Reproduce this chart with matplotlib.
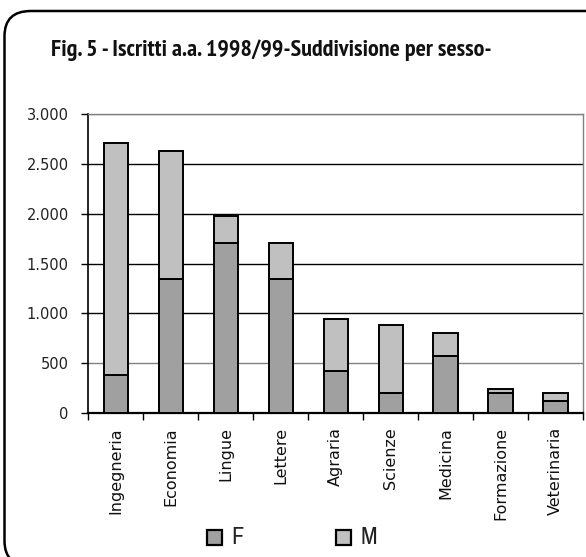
import os
import matplotlib
matplotlib.use("Agg")
import matplotlib.pyplot as plt
from matplotlib import font_manager, patheffects
from matplotlib.font_manager import FontProperties
from matplotlib.patches import FancyBboxPatch, Rectangle
from matplotlib.ticker import FuncFormatter, FixedLocator
import numpy as np

categories = ["Ingegneria", "Economia", "Lingue", "Lettere", "Agraria",
              "Scienze", "Medicina", "Formazione", "Veterinaria"]
femmine = [385, 1350, 1710, 1350, 425, 205, 570, 205, 125]
maschi = [2330, 1285, 265, 360, 520, 680, 235, 40, 80]
y_ticks = [0, 500, 1000, 1500, 2000, 2500, 3000]
title = "Fig. 5 - Iscritti a.a. 1998/99-Suddivisione per sesso-"
series_labels = ["F", "M"]


def weight_num(entry):
    w = entry.weight
    if isinstance(w, str):
        return {"bold": 700, "semibold": 600, "demibold": 600, "heavy": 800,
                "black": 900, "light": 300, "normal": 400, "regular": 400,
                "medium": 500, "book": 400}.get(w, 400)
    return int(w)


def width_tier(entry):
    tag = (entry.name + " " + os.path.basename(entry.fname)).lower().replace(" ", "")
    if "narrow" in tag:
        return 0
    if "extracondensed" in tag or "ultracondensed" in tag:
        return 3
    if "semicondensed" in tag:
        return 2
    if "condensed" in tag:
        return 1
    return None


def upright(entry):
    base = os.path.basename(entry.fname).lower()
    stem = os.path.splitext(base)[0]
    return (str(entry.style) == "normal" and "ital" not in base
            and "oblique" not in base and not stem.endswith("it"))


narrow_fonts = [e for e in font_manager.fontManager.ttflist
                if width_tier(e) is not None and upright(e)]


def pick(target_weight):
    if not narrow_fonts:
        return None
    return min(narrow_fonts,
               key=lambda e: (abs(weight_num(e) - target_weight) > 150,
                              width_tier(e),
                              abs(weight_num(e) - target_weight)))


heavy = pick(700)
regular = pick(400)
if heavy is not None:
    title_font = FontProperties(fname=heavy.fname, size=17.4)
    legend_font = FontProperties(fname=regular.fname, size=17.5)
    title_is_bold = weight_num(heavy) >= 600
else:
    title_font = FontProperties(family="DejaVu Sans", weight="bold", size=12)
    legend_font = FontProperties(family="DejaVu Sans", size=13)
    title_is_bold = True

W, H = 586, 557
fig = plt.figure(figsize=(W / 100, H / 100), dpi=100)


def fx(px):
    return px / W


def fy(py):
    return 1 - py / H


# rounded frame around the whole chart
frame = FancyBboxPatch((fx(4.5), fy(566)), fx(620) - fx(4.5), fy(11) - fy(566),
                       boxstyle="round,pad=0,rounding_size=0.045",
                       transform=fig.transFigure, facecolor="none",
                       edgecolor="black", linewidth=1.8, zorder=-1)
fig.patches.append(frame)

title_txt = fig.text(fx(271), fy(50), title, ha="center", va="center",
                     fontproperties=title_font, color="#111111")
if not title_is_bold:
    # thicken the strokes of a light condensed face
    title_txt.set_path_effects([patheffects.withStroke(linewidth=1.1,
                                                       foreground="#111111")])

ax = fig.add_axes([fx(88.3), fy(413), fx(583) - fx(88.3), fy(114.3) - fy(413)])
ax.set_facecolor("white")
ax.set_zorder(2)

x = np.arange(len(categories))
f_col = "#a0a0a0"
m_col = "#c0c0c0"
ax.bar(x, femmine, width=0.44, color=f_col, edgecolor="black", linewidth=1.4, zorder=3)
ax.bar(x, maschi, width=0.44, bottom=femmine, color=m_col, edgecolor="black",
       linewidth=1.4, zorder=3)

ax.set_xlim(-0.5, len(categories) - 0.5)
ax.set_ylim(0, 3000)

# horizontal gridlines
for v in y_ticks[1:]:
    c = "#808080" if v in (500, 3000) else "black"
    ax.axhline(v, color=c, linewidth=1.0, zorder=1)

ax.yaxis.set_major_locator(FixedLocator(y_ticks))
ax.yaxis.set_major_formatter(FuncFormatter(lambda v, p: f"{int(v):,}".replace(",", ".")))
ax.tick_params(axis="y", direction="out", length=5, width=1, pad=9,
               labelsize=10.5, labelfontfamily="DejaVu Sans", labelcolor="#222222")

ax.set_xticks(np.arange(len(categories) + 1) - 0.5, minor=False)
ax.set_xticklabels([])
ax.tick_params(axis="x", direction="out", length=5, width=1)
ax.set_xticks(x, minor=True)
ax.set_xticklabels(categories, minor=True, rotation=90, va="top", ha="center",
                   fontsize=11.5, family="DejaVu Sans", color="#111111")
ax.tick_params(axis="x", which="minor", length=0, pad=10)

for side in ["top", "right"]:
    ax.spines[side].set_color("#808080")
    ax.spines[side].set_linewidth(1.0)
ax.spines["left"].set_linewidth(1.2)
ax.spines["bottom"].set_linewidth(1.6)

# legend squares
for (px, lab, col) in [(207, series_labels[0], f_col), (336, series_labels[1], m_col)]:
    fig.patches.append(Rectangle((fx(px), fy(545)), fx(15), fy(530) - fy(545),
                                 transform=fig.transFigure, facecolor=col,
                                 edgecolor="black", linewidth=1.6))
    fig.text(fx(px + 24), fy(537), lab, ha="left", va="center",
             fontproperties=legend_font, color="#222222")

fig.savefig("out.png", dpi=100)
